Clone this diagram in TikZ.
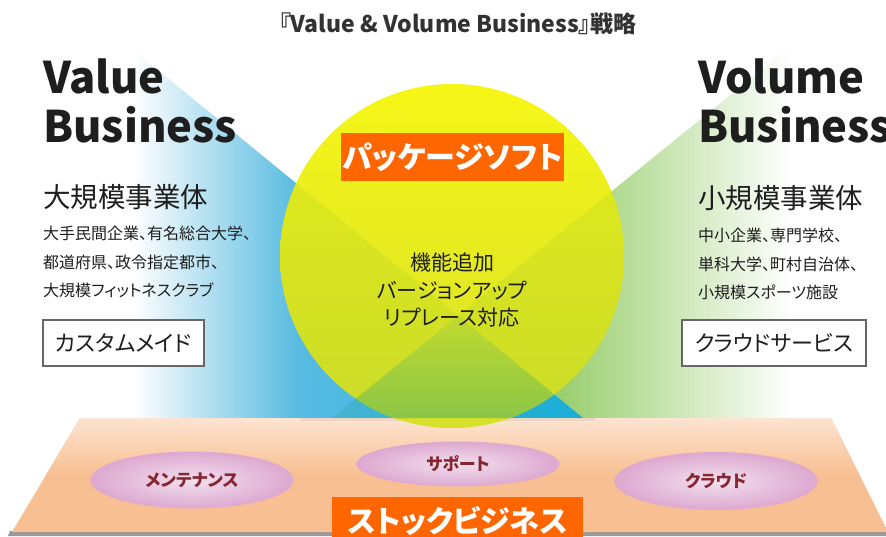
\documentclass[tikz,border=0pt]{standalone}
\usepackage{fontspec}
\setmainfont{Noto Sans CJK JP}[RawFeature=+palt]
\usetikzlibrary{shapes.geometric}
\definecolor{orangeL}{RGB}{255,102,0}
\definecolor{blueA}{RGB}{70,180,222}
\definecolor{blueB}{RGB}{10,170,228}
\definecolor{greenA}{RGB}{135,198,85}
\definecolor{yelA}{RGB}{246,246,22}
\definecolor{yelB}{RGB}{215,224,42}
\definecolor{wedgeA}{RGB}{192,218,45}
\definecolor{wedgeB}{RGB}{140,198,72}
\definecolor{tint}{RGB}{150,200,40}
\definecolor{floorA}{RGB}{253,228,210}
\definecolor{floorB}{RGB}{248,192,146}
\definecolor{pinkI}{RGB}{242,224,238}
\definecolor{pinkO}{RGB}{221,168,208}
\definecolor{wine}{RGB}{135,38,48}
\definecolor{titleC}{RGB}{50,50,50}
\definecolor{txt}{RGB}{30,30,30}
\pgfdeclarehorizontalshading{blueshade}{100bp}{color(0bp)=(white); color(25bp)=(white); color(43bp)=(blueA); color(75bp)=(blueB); color(100bp)=(blueB)}
\begin{document}
\begin{tikzpicture}[x=1pt,y=-1pt,
  lbl/.style={font=\bfseries\fontsize{30}{30}\selectfont, text=white, fill=orangeL, inner sep=0pt},
  blob/.style={ellipse, inner color=pinkI, outer color=pinkO, font=\bfseries\fontsize{17}{17}\selectfont, text=wine, inner sep=0pt},
  big/.style={font=\bfseries\fontsize{43.5}{43.5}\selectfont, anchor=base west, inner sep=0pt, text=txt},
  head/.style={font=\fontsize{27.5}{27.5}\selectfont, anchor=west, inner sep=0pt, text=txt},
  sm/.style={font=\fontsize{16}{16}\selectfont, anchor=west, inner sep=0pt, text=txt},
  kind/.style={draw=black!60, line width=1.2pt, fill=white, font=\fontsize{22}{22}\selectfont, text=txt, inner sep=0pt, minimum height=46pt}
]
\useasboundingbox (0,0) rectangle (886,536);
\fill[white] (0,0) rectangle (886,536);

% green triangle
\begin{scope}
\clip (786,50) -- (332,418) -- (800,418) -- cycle;
\fill[greenA] (320,40) rectangle (520,420);
\shade[left color=greenA, right color=white] (519,40) rectangle (792,420);
\end{scope}
% blue triangle
\begin{scope}
\clip (137,53) -- (583,418) -- (130,418) -- cycle;
\shade[shading=blueshade, opacity=0.9] (133,40) rectangle (590,420);
\end{scope}

% floor
\fill[black!40] (10,531) -- (890,531) -- (892,536) -- (8,536) -- cycle;
\begin{scope}
\clip (80,418) -- (831,418) -- (888,532) -- (12,532) -- cycle;
\fill[floorB] (0,410) rectangle (900,540);
\shade[top color=floorA, bottom color=floorB] (0,417) rectangle (900,475);
\fill[black, opacity=0.06] (300,418) rectangle (595,421);
\end{scope}

% circle
\shade[top color=yelA, bottom color=yelB] (452,256) circle[radius=172pt];
\begin{scope}
\clip (452,256) circle[radius=172pt];
\fill[tint, opacity=0.18] (137,53) -- (583,418) -- (130,418) -- cycle;
\fill[tint, opacity=0.18] (786,50) -- (332,418) -- (800,418) -- cycle;
\shade[top color=wedgeA, bottom color=wedgeB] (458,316) -- (583,418) -- (332,418) -- cycle;
\end{scope}

% labels
\node[lbl, minimum width=223pt, minimum height=48pt] (pkg) at (452.5,157) {パッケージソフト};
\node[font=\fontsize{21}{27.5}\selectfont, align=center, text=txt, inner sep=0pt] (mid) at (452,290) {機能追加\\バージョンアップ\\リプレース対応};

\node[font=\bfseries\fontsize{23}{23}\selectfont, text=titleC, inner sep=0pt] (title) at (458,24) {『Value \& Volume Business』戦略};

\node[big] (v1) at (43,93) {Value};
\node[big] (v2) at (43,142) {Business};
\node[big] (w1) at (698,93) {Volume};
\node[big] (w2) at (698,142) {Business};

\node[head] (lh) at (43,197) {大規模事業体};
\node[sm] (l1) at (43,233) {大手民間企業、有名総合大学、};
\node[sm] (l2) at (43,262) {都道府県、政令指定都市、};
\node[sm] (l3) at (43,290) {大規模フィットネスクラブ};

\node[head] (rh) at (698,198) {小規模事業体};
\node[sm] (r1) at (698,235) {中小企業、専門学校、};
\node[sm] (r2) at (698,264) {単科大学、町村自治体、};
\node[sm] (r3) at (698,292) {小規模スポーツ施設};

\node[kind, minimum width=161pt] (cm) at (123.5,343) {カスタムメイド};
\node[kind, minimum width=184pt] (cs) at (774,343) {クラウドサービス};

\node[blob, minimum width=203pt, minimum height=57pt] (b1) at (192,480) {メンテナンス};
\node[blob, minimum width=203pt, minimum height=45pt] (b2) at (458,464) {サポート};
\node[blob, minimum width=203pt, minimum height=58pt] (b3) at (716,481) {クラウド};

\node[lbl, minimum width=251pt, minimum height=48pt] (stock) at (457.5,521) {ストックビジネス};
\end{tikzpicture}
\end{document}
